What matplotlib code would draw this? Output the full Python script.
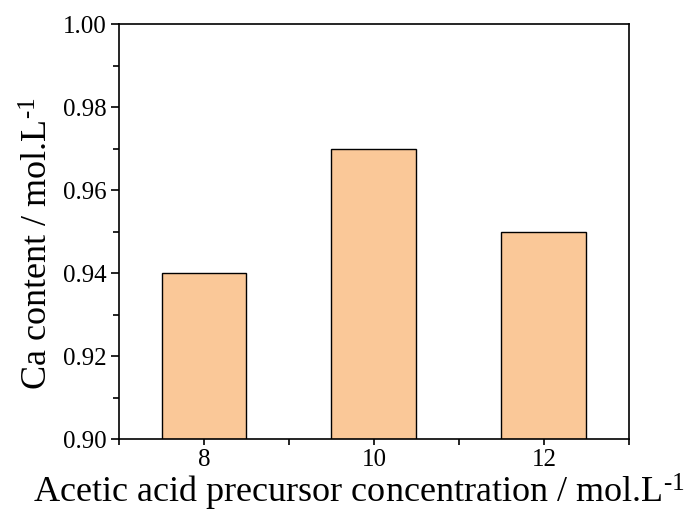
import numpy as np
import matplotlib
matplotlib.use("Agg")
import matplotlib.pyplot as plt
from matplotlib.ticker import MultipleLocator, FormatStrFormatter

# data
conc = [8, 10, 12]
ca_content = [0.94, 0.97, 0.95]

plt.rcParams["font.family"] = ["Liberation Serif", "DejaVu Serif"]
plt.rcParams["mathtext.fontset"] = "custom"
plt.rcParams["mathtext.rm"] = "Liberation Serif"
plt.rcParams["mathtext.it"] = "Liberation Serif:italic"

fig = plt.figure(figsize=(6.88, 5.13), dpi=100)
ax = fig.add_axes([0.173, 0.144, 0.741, 0.809])

ax.bar(conc, ca_content, width=1.0, color="#FAC898", edgecolor="black", linewidth=1.0)

ax.set_xlim(7, 13)
ax.set_ylim(0.90, 1.00)
ax.set_xticks(conc)
ax.xaxis.set_minor_locator(MultipleLocator(1))
ax.yaxis.set_major_locator(MultipleLocator(0.02))
ax.yaxis.set_minor_locator(MultipleLocator(0.01))
ax.yaxis.set_major_formatter(FormatStrFormatter("%.2f"))
ax.tick_params(axis="y", which="major", direction="out", length=6, width=1.2, labelsize=18, pad=3)
ax.tick_params(axis="y", which="minor", direction="out", length=4, width=1.2)
ax.tick_params(axis="x", which="both", direction="out", length=4, width=1.2, labelsize=18, pad=3)
for s in ax.spines.values():
    s.set_linewidth(1.2)

ax.set_xlabel(r"Acetic acid precursor concentration / mol.L$^{\text{-1}}$",
              fontsize=26, labelpad=1, x=0.47)
ax.set_ylabel(r"Ca content / mol.L$^{\text{-1}}$", fontsize=26, labelpad=5, y=0.47)

plt.savefig("out.png", dpi=100)
